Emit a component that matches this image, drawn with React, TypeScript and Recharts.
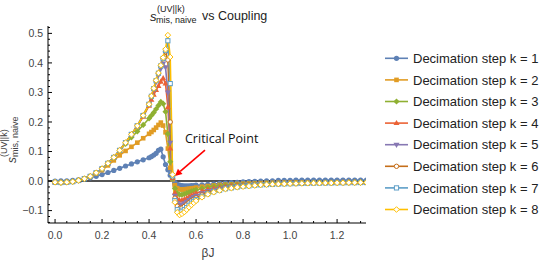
import { LineChart, Line, XAxis, YAxis, ReferenceLine } from 'recharts'

// beta*J sample points (denser around the transition)
const betaJ = [
  0, 0.025, 0.05, 0.075, 0.1, 0.125, 0.15, 0.175, 0.2, 0.225, 0.25, 0.275, 0.3, 0.325, 0.35, 0.375, 0.4,
  0.41, 0.42, 0.43, 0.44, 0.45, 0.46, 0.47, 0.48, 0.49, 0.5, 0.51, 0.52, 0.53, 0.54, 0.55, 0.56, 0.57, 0.58, 0.59, 0.6,
  0.625, 0.65, 0.675, 0.7, 0.725, 0.75, 0.775, 0.8, 0.825, 0.85, 0.875, 0.9, 0.925, 0.95, 0.975, 1.0,
  1.025, 1.05, 1.075, 1.1, 1.125, 1.15, 1.175, 1.2, 1.225, 1.25, 1.275, 1.3, 1.325,
]

const decim1 = [
  0, 0.0005, 0.001, 0.002, 0.004, 0.007, 0.011, 0.016, 0.022, 0.029, 0.036, 0.043, 0.051, 0.058, 0.065, 0.072, 0.079,
  0.083, 0.088, 0.094, 0.104, 0.108, 0.082, 0.056, 0.038, 0.02, 0.005, -0.005, -0.011, -0.014, -0.015, -0.016, -0.016, -0.016, -0.015, -0.015, -0.014,
  -0.013, -0.011, -0.01, -0.008, -0.007, -0.005, -0.004, -0.003, -0.002, -0.001, 0, 0.001, 0.001, 0.002, 0.002, 0.002,
  0.003, 0.003, 0.003, 0.003, 0.003, 0.003, 0.003, 0.003, 0.003, 0.003, 0.003, 0.003, 0.003,
]
const decim2 = [
  -0.004, -0.004, -0.003, -0.001, 0.003, 0.008, 0.015, 0.025, 0.037, 0.053, 0.07, 0.087, 0.102, 0.116, 0.13, 0.145, 0.16,
  0.166, 0.173, 0.181, 0.19, 0.198, 0.188, 0.165, 0.11, 0.045, 0.006, -0.014, -0.024, -0.028, -0.029, -0.028, -0.027, -0.026, -0.025, -0.024, -0.022,
  -0.019, -0.017, -0.015, -0.013, -0.012, -0.011, -0.01, -0.009, -0.008, -0.0075, -0.007, -0.0065, -0.006, -0.006, -0.0055, -0.0055,
  -0.005, -0.005, -0.005, -0.005, -0.0045, -0.0045, -0.0045, -0.0045, -0.004, -0.004, -0.004, -0.004, -0.004,
]
const decim3 = [
  -0.004, -0.005, -0.004, -0.002, 0.002, 0.008, 0.016, 0.028, 0.042, 0.06, 0.08, 0.103, 0.126, 0.148, 0.168, 0.19, 0.212,
  0.222, 0.232, 0.244, 0.256, 0.268, 0.262, 0.235, 0.16, 0.065, 0.008, -0.025, -0.041, -0.046, -0.046, -0.044, -0.041, -0.038, -0.035, -0.032, -0.03,
  -0.025, -0.021, -0.018, -0.016, -0.014, -0.013, -0.012, -0.011, -0.01, -0.009, -0.0085, -0.008, -0.0075, -0.007, -0.007, -0.0065,
  -0.006, -0.006, -0.006, -0.0055, -0.0055, -0.005, -0.005, -0.005, -0.005, -0.0045, -0.0045, -0.0045, -0.0045,
]
const decim4 = [
  -0.004, -0.005, -0.004, -0.002, 0.002, 0.008, 0.016, 0.028, 0.042, 0.06, 0.08, 0.104, 0.13, 0.157, 0.185, 0.218, 0.255,
  0.275, 0.292, 0.308, 0.322, 0.336, 0.348, 0.33, 0.25, 0.11, 0.01, -0.04, -0.06, -0.066, -0.065, -0.062, -0.058, -0.053, -0.049, -0.045, -0.041,
  -0.034, -0.028, -0.024, -0.021, -0.018, -0.016, -0.014, -0.013, -0.012, -0.011, -0.01, -0.0095, -0.009, -0.0085, -0.008, -0.0075,
  -0.007, -0.007, -0.0065, -0.0065, -0.006, -0.006, -0.0055, -0.0055, -0.005, -0.005, -0.005, -0.005, -0.0045,
]
const decim5 = [
  -0.004, -0.005, -0.004, -0.002, 0.002, 0.008, 0.016, 0.028, 0.042, 0.06, 0.08, 0.104, 0.13, 0.158, 0.187, 0.222, 0.26,
  0.285, 0.31, 0.335, 0.358, 0.38, 0.398, 0.385, 0.3, 0.13, 0.012, -0.05, -0.074, -0.081, -0.079, -0.075, -0.07, -0.064, -0.059, -0.054, -0.05,
  -0.041, -0.034, -0.029, -0.025, -0.021, -0.019, -0.017, -0.015, -0.013, -0.012, -0.011, -0.01, -0.0095, -0.009, -0.0085, -0.008,
  -0.0075, -0.007, -0.007, -0.0065, -0.0065, -0.006, -0.006, -0.0055, -0.0055, -0.005, -0.005, -0.005, -0.005,
]
const decim6 = [
  -0.004, -0.005, -0.004, -0.002, 0.002, 0.008, 0.016, 0.028, 0.042, 0.06, 0.08, 0.104, 0.13, 0.158, 0.187, 0.222, 0.26,
  0.287, 0.313, 0.34, 0.365, 0.39, 0.415, 0.438, 0.41, 0.2, 0.014, -0.058, -0.085, -0.093, -0.091, -0.086, -0.08, -0.073, -0.067, -0.062, -0.057,
  -0.047, -0.039, -0.033, -0.028, -0.024, -0.021, -0.019, -0.017, -0.015, -0.013, -0.012, -0.011, -0.01, -0.0095, -0.009, -0.0085,
  -0.008, -0.0075, -0.007, -0.007, -0.0065, -0.0065, -0.006, -0.006, -0.0055, -0.0055, -0.005, -0.005, -0.005,
]
const decim7 = [
  -0.004, -0.005, -0.004, -0.002, 0.002, 0.008, 0.016, 0.028, 0.042, 0.06, 0.08, 0.104, 0.13, 0.158, 0.187, 0.222, 0.26,
  0.287, 0.313, 0.34, 0.365, 0.39, 0.415, 0.442, 0.475, 0.33, 0.018, -0.066, -0.097, -0.105, -0.102, -0.097, -0.09, -0.082, -0.075, -0.069, -0.063,
  -0.052, -0.043, -0.036, -0.031, -0.026, -0.023, -0.02, -0.018, -0.016, -0.014, -0.013, -0.012, -0.011, -0.01, -0.0095, -0.009,
  -0.0085, -0.008, -0.0075, -0.007, -0.007, -0.0065, -0.0065, -0.006, -0.006, -0.0055, -0.0055, -0.005, -0.005,
]
const decim8 = [
  -0.004, -0.005, -0.004, -0.002, 0.002, 0.008, 0.016, 0.028, 0.042, 0.06, 0.08, 0.104, 0.13, 0.158, 0.187, 0.222, 0.26,
  0.288, 0.314, 0.341, 0.366, 0.392, 0.418, 0.446, 0.494, 0.42, 0.022, -0.072, -0.106, -0.115, -0.111, -0.105, -0.097, -0.089, -0.081, -0.074, -0.067,
  -0.055, -0.045, -0.038, -0.032, -0.027, -0.024, -0.021, -0.019, -0.017, -0.015, -0.013, -0.012, -0.011, -0.01, -0.0095, -0.009,
  -0.0085, -0.008, -0.0075, -0.007, -0.007, -0.0065, -0.0065, -0.006, -0.006, -0.0055, -0.0055, -0.005, -0.005,
]

const X_TICKS = [
  0, 0.05, 0.1, 0.15, 0.2, 0.25, 0.3, 0.35, 0.4, 0.45, 0.5, 0.55, 0.6, 0.65,
  0.7, 0.75, 0.8, 0.85, 0.9, 0.95, 1.0, 1.05, 1.1, 1.15, 1.2, 1.25, 1.3,
]
const Y_TICKS = [
  -0.14, -0.12, -0.1, -0.08, -0.06, -0.04, -0.02, 0, 0.02, 0.04, 0.06, 0.08, 0.1, 0.12, 0.14, 0.16,
  0.18, 0.2, 0.22, 0.24, 0.26, 0.28, 0.3, 0.32, 0.34, 0.36, 0.38, 0.4, 0.42, 0.44, 0.46, 0.48, 0.5, 0.52,
]

type Shape = 'circle' | 'square' | 'diamond' | 'up' | 'down'

const SERIES: { key: string; label: string; color: string; shape: Shape; open: boolean; values: number[] }[] = [
  { key: 'k1', label: 'Decimation step k = 1', color: '#5E81B5', shape: 'circle', open: false, values: decim1 },
  { key: 'k2', label: 'Decimation step k = 2', color: '#E19C24', shape: 'square', open: false, values: decim2 },
  { key: 'k3', label: 'Decimation step k = 3', color: '#8FB032', shape: 'diamond', open: false, values: decim3 },
  { key: 'k4', label: 'Decimation step k = 4', color: '#EB6235', shape: 'up', open: false, values: decim4 },
  { key: 'k5', label: 'Decimation step k = 5', color: '#8778B3', shape: 'down', open: false, values: decim5 },
  { key: 'k6', label: 'Decimation step k = 6', color: '#C56E1A', shape: 'circle', open: true, values: decim6 },
  { key: 'k7', label: 'Decimation step k = 7', color: '#5D9EC7', shape: 'square', open: true, values: decim7 },
  { key: 'k8', label: 'Decimation step k = 8', color: '#FFBF00', shape: 'diamond', open: true, values: decim8 },
]

const rows = betaJ.map((x, i) => {
  const r: Record<string, number> = { x }
  SERIES.forEach((s) => (r[s.key] = s.values[i]))
  return r
})

const FONT = '"Liberation Sans", Arial, sans-serif'
const X_DOMAIN = [-0.03, 1.323]
const Y_DOMAIN = [-0.142, 0.525]

const isMajorX = (v: number) => Math.abs(v * 5 - Math.round(v * 5)) < 1e-6
const isMajorY = (v: number) => Math.abs(v * 10 - Math.round(v * 10)) < 1e-6
const fmt = (v: number) => (v < 0 ? '\u2212' + Math.abs(v).toFixed(1) : v.toFixed(1))

function Marker({ cx, cy, shape, color, open }: { cx: number; cy: number; shape: Shape; color: string; open: boolean }) {
  const fill = open ? '#fff' : color
  const sw = open ? 1 : 0
  if (shape === 'circle') return <circle cx={cx} cy={cy} r={open ? 2.2 : 2.6} fill={fill} stroke={color} strokeWidth={sw} />
  if (shape === 'square') {
    const h = open ? 2.1 : 2.3
    return <rect x={cx - h} y={cy - h} width={h * 2} height={h * 2} fill={fill} stroke={color} strokeWidth={sw} />
  }
  if (shape === 'diamond') {
    const d = open ? 2.8 : 3.1
    return <polygon points={`${cx},${cy - d} ${cx + d},${cy} ${cx},${cy + d} ${cx - d},${cy}`} fill={fill} stroke={color} strokeWidth={sw} />
  }
  if (shape === 'up')
    return <polygon points={`${cx},${cy - 3.2} ${cx + 3},${cy + 2} ${cx - 3},${cy + 2}`} fill={fill} />
  return <polygon points={`${cx},${cy + 3.2} ${cx + 3},${cy - 2} ${cx - 3},${cy - 2}`} fill={fill} />
}

function BottomTick({ x, y, payload }: any) {
  const major = isMajorX(payload.value)
  return (
    <g>
      <line x1={x} x2={x} y1={y} y2={y - (major ? 4 : 2)} stroke="#000" />
      {major && (
        <text x={x} y={y + 16} textAnchor="middle" fontSize={10.5} fontFamily={FONT} fill="#444">
          {fmt(payload.value)}
        </text>
      )}
    </g>
  )
}
function TopTick({ x, y, payload }: any) {
  const major = isMajorX(payload.value)
  return <line x1={x} x2={x} y1={y} y2={y + (major ? 4 : 2)} stroke="#000" />
}
function LeftTick({ x, y, payload }: any) {
  const major = isMajorY(payload.value)
  return (
    <g>
      <line x1={x} x2={x + (major ? 4 : 2)} y1={y} y2={y} stroke="#000" />
      {major && (
        <text x={x - 5} y={y + 3.8} textAnchor="end" fontSize={10.5} fontFamily={FONT} fill="#444">
          {fmt(payload.value)}
        </text>
      )}
    </g>
  )
}
function RightTick({ x, y, payload }: any) {
  const major = isMajorY(payload.value)
  return <line x1={x} x2={x - (major ? 4 : 2)} y1={y} y2={y} stroke="#000" />
}

function Arrow(props: any) {
  const { x1, y1, x2, y2 } = props
  const ang = Math.atan2(y2 - y1, x2 - x1)
  const L = 7
  const W = 3.5
  const bx = x2 - L * Math.cos(ang)
  const by = y2 - L * Math.sin(ang)
  const px = -Math.sin(ang) * W
  const py = Math.cos(ang) * W
  return (
    <g>
      <text x={x1 - 20} y={y1 - 7} fontSize={12.5} fontFamily='"Open Sans", sans-serif' fill="#111">
        Critical Point
      </text>
      <line x1={x1} y1={y1} x2={bx} y2={by} stroke="#F00" strokeWidth={1.6} />
      <polygon points={`${x2},${y2} ${bx + px},${by + py} ${bx - px},${by - py}`} fill="#F00" />
    </g>
  )
}

export default function App() {
  return (
    <div style={{ position: 'absolute', left: 0, top: 0, width: 550, height: 269, background: '#fff' }}>
      <LineChart width={550} height={269} data={rows} margin={{ top: 26, right: 184, bottom: 0, left: 0 }}>
        <XAxis
          xAxisId="b"
          dataKey="x"
          type="number"
          domain={X_DOMAIN}
          allowDataOverflow
          ticks={X_TICKS}
          interval={0}
          height={46}
          tickSize={0}
          tickMargin={0}
          tickLine={false}
          axisLine={{ stroke: '#000' }}
          tick={<BottomTick />}
        />
        <XAxis
          xAxisId="t"
          orientation="top"
          type="number"
          domain={X_DOMAIN}
          allowDataOverflow
          ticks={X_TICKS}
          interval={0}
          height={0}
          tickSize={0}
          tickMargin={0}
          tickLine={false}
          axisLine={{ stroke: '#000' }}
          tick={<TopTick />}
        />
        <YAxis
          yAxisId="l"
          type="number"
          domain={Y_DOMAIN}
          allowDataOverflow
          ticks={Y_TICKS}
          interval={0}
          width={48}
          tickSize={0}
          tickMargin={0}
          tickLine={false}
          axisLine={{ stroke: '#000' }}
          tick={<LeftTick />}
        />
        <YAxis
          yAxisId="r"
          orientation="right"
          type="number"
          domain={Y_DOMAIN}
          allowDataOverflow
          ticks={Y_TICKS}
          interval={0}
          width={0}
          tickSize={0}
          tickMargin={0}
          tickLine={false}
          axisLine={{ stroke: '#000' }}
          tick={<RightTick />}
        />
        {SERIES.map((s) => (
          <Line
            key={s.key}
            xAxisId="b"
            yAxisId="l"
            dataKey={s.key}
            type="linear"
            stroke={s.color}
            strokeWidth={1.6}
            isAnimationActive={false}
            activeDot={false}
            dot={(p: any) => (
              <Marker key={`${s.key}-${p.index}`} cx={p.cx} cy={p.cy} shape={s.shape} color={s.color} open={s.open} />
            )}
          />
        ))}
        <ReferenceLine xAxisId="b" yAxisId="l" y={0} stroke="#1a1a1a" strokeWidth={1.6} />
        <ReferenceLine
          xAxisId="b"
          yAxisId="l"
          segment={[
            { x: 0.638, y: 0.105 },
            { x: 0.51, y: 0.017 },
          ]}
          shape={<Arrow />}
        />
      </LineChart>

      <svg width={550} height={269} style={{ position: 'absolute', left: 0, top: 0, pointerEvents: 'none' }}>
        {/* title */}
        <g transform="translate(150,21)" fontFamily={FONT} fill="#222">
          <text x={0} y={0} fontSize={13} fontStyle="italic">s</text>
          <text x={7} y={-9.5} fontSize={9}>(UV||k)</text>
          <text x={6} y={2} fontSize={9}>mis, naive</text>
          <text x={52} y={-1} fontSize={12.5}>vs Coupling</text>
        </g>
        {/* y label */}
        <g transform="translate(16,163) rotate(-90)" fontFamily={FONT} fill="#444">
          <text x={0} y={0} fontSize={12} fontStyle="italic">s</text>
          <text x={6} y={-9} fontSize={9}>(UV||k)</text>
          <text x={6} y={2} fontSize={9}>mis, naive</text>
        </g>
        {/* x label */}
        <text x={208} y={257} textAnchor="middle" fontFamily={FONT} fontSize={12} fill="#444">
          βJ
        </text>
        {/* legend */}
        {SERIES.map((s, i) => {
          const cy = 58.3 + i * 21.6
          return (
            <g key={s.key}>
              <line x1={385} x2={408} y1={cy} y2={cy} stroke={s.color} strokeWidth={1.6} />
              <Marker cx={396.5} cy={cy} shape={s.shape} color={s.color} open={s.open} />
              <text x={413} y={cy + 4.6} fontFamily={FONT} fontSize={13} fill="#222">
                {s.label}
              </text>
            </g>
          )
        })}
      </svg>
    </div>
  )
}
